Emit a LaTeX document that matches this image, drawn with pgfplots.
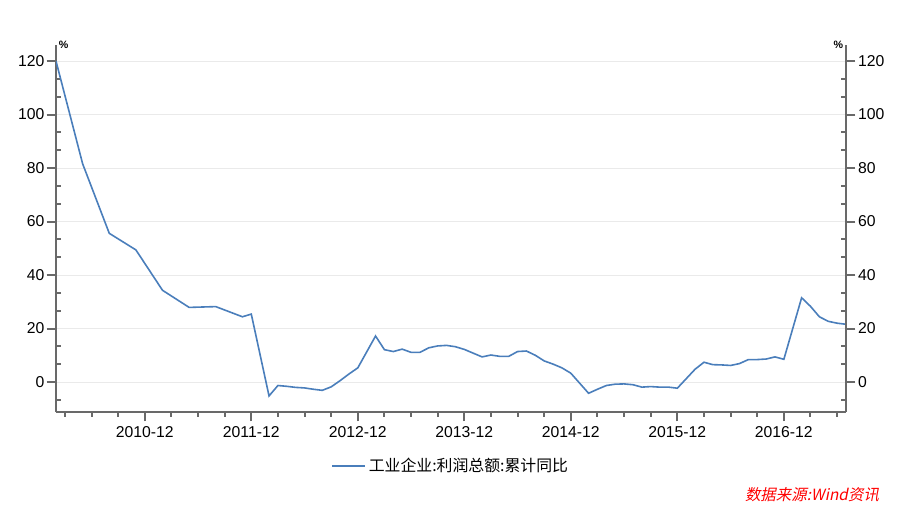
\documentclass[border=0pt]{standalone}
\usepackage{pgfplots}
\pgfplotsset{compat=1.18}
\usepackage{fontspec}
\setmainfont{Liberation Sans}
\newfontfamily\cjk{Noto Sans CJK SC}
\newfontfamily\cjkit[FakeSlant=0.2]{Noto Sans CJK SC}
\definecolor{lineblue}{RGB}{74,126,187}
\definecolor{axgray}{RGB}{105,105,105}
\definecolor{gridgray}{RGB}{234,234,234}

\begin{document}
\begin{tikzpicture}
\useasboundingbox (0,0) rectangle (678pt,381pt);
\pgfplotsset{
  common/.style={
    scale only axis, width=592.5pt, height=275.25pt,
    at={(42pt,72pt)}, anchor=south west,
    xmin=2, xmax=91, ymin=-11.2, ymax=126,
    ytick={0,20,...,120},
    minor ytick={-6.667,6.667,13.333,26.667,33.333,46.667,53.333,66.667,73.333,86.667,93.333,106.667,113.333},
    tick align=outside,
    major tick length=7pt, minor tick length=3.5pt,
    axis line style={draw=axgray, line width=1.5pt, -},
    tick style={draw=axgray, line width=1.5pt},
    ticklabel style={font=\fontsize{11.8}{14}\selectfont},
    /pgf/number format/assume math mode=true,
  }
}
\begin{axis}[common, name=main,
  axis x line*=bottom, axis y line*=left,
  xtick={12,24,...,84},
  xticklabels={2010-12,2011-12,2012-12,2013-12,2014-12,2015-12,2016-12},
  minor xtick={3,6,...,90},
  minor y tick style={xshift=3.5pt},
  yticklabel style={xshift=1.8pt},
  ymajorgrids, major grid style={draw=gridgray, line width=0.6pt},
  legend style={at={(0.5,-0.147)}, anchor=center, draw=none, fill=none,
    font=\cjk\fontsize{11.9}{14}\selectfont},
  legend image code/.code={\draw[#1] (0pt,0pt) -- (25pt,0pt);},
]
\addplot[lineblue, line width=1.2pt] coordinates {
(2,120) (5,81.6) (8,55.6) (11,49.4) (14,34.3) (17,27.9) (20,28.2) (23,24.4) (24,25.4)
(26,-5.2) (27,-1.3) (28,-1.6) (29,-2.0) (30,-2.2) (31,-2.7) (32,-3.1) (33,-1.8) (34,0.5) (35,3.0) (36,5.3)
(38,17.2) (39,12.1) (40,11.4) (41,12.3) (42,11.1) (43,11.1) (44,12.8) (45,13.5) (46,13.7) (47,13.2) (48,12.2)
(50,9.4) (51,10.1) (52,9.6) (53,9.6) (54,11.4) (55,11.6) (56,10.0) (57,7.9) (58,6.7) (59,5.3) (60,3.3)
(62,-4.2) (63,-2.7) (64,-1.3) (65,-0.8) (66,-0.7) (67,-1.0) (68,-1.9) (69,-1.7) (70,-1.9) (71,-1.9) (72,-2.3)
(74,4.8) (75,7.4) (76,6.5) (77,6.4) (78,6.2) (79,6.9) (80,8.4) (81,8.4) (82,8.6) (83,9.4) (84,8.5)
(86,31.5) (87,28.3) (88,24.4) (89,22.7) (90,22.0) (91,21.6)
};
\addlegendentry{工业企业:利润总额:累计同比}
\end{axis}
\begin{axis}[common,
  axis x line=none, axis y line*=right,
  minor y tick style={xshift=-3.5pt},
  yticklabel style={xshift=-1.5pt},
]
\end{axis}
\node[anchor=west, inner sep=0pt, font=\bfseries\fontsize{8}{9}\selectfont] at ([xshift=2pt]main.north west) {\%};
\node[anchor=east, inner sep=0pt, font=\bfseries\fontsize{8}{9}\selectfont] at ([xshift=-2pt]main.north east) {\%};
\node[text=red, inner sep=0pt, font=\cjkit\fontsize{11.6}{13}\selectfont] at (609pt,9.75pt) {数据来源:Wind资讯};
\end{tikzpicture}
\end{document}
